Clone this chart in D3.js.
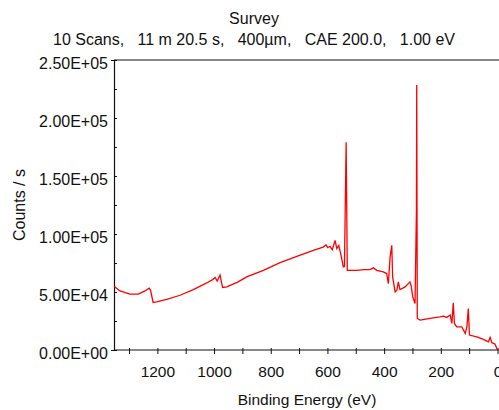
<!DOCTYPE html>
<html>
<head>
<meta charset="utf-8">
<script src="https://cdn.jsdelivr.net/npm/d3@7"></script>
<style>
  body { margin: 0; background: #fff; }
  svg text { font-family: "Liberation Sans", Arial, sans-serif; fill: #111; white-space: pre; }
</style>
</head>
<body>
<div class="container"></div>
<script>
// Spectrum (binding energy in eV, counts/s)
const energy = [1353, 1332, 1297, 1267, 1244, 1229, 1224, 1215, 1203, 1167, 1120, 1073, 1026, 1005, 996, 989, 979, 970, 955, 915,
  885, 826, 767, 708, 650, 615, 605, 599, 591, 583, 573, 567, 560, 552, 544, 540, 534, 530, 497, 470, 450, 438, 426, 403, 391,
  385, 379, 373, 370, 361, 355, 350, 344, 326, 309, 305, 299, 291, 286, 285, 283, 273, 238, 203, 191, 179, 167, 161, 156,
  152, 144, 126, 114, 108, 103, 99, 73, 50, 32, 26, 20, 9, 0];
const counts = [55000, 50900, 48100, 48100, 50900, 53300, 51500, 41000, 41500, 43600, 47200, 52100, 57800, 60700, 62500, 59500, 64700, 53900, 54400, 58700,
  63000, 68700, 75300, 80800, 85900, 88700, 90500, 88200, 89400, 86500, 94500, 87400, 90200, 81600, 71600, 72000, 179000, 68700, 68700, 69300, 69300, 70800, 68700, 67300, 65900,
  57300, 80100, 90200, 63000, 50100, 51500, 58700, 52100, 54400, 58700, 55800, 45800, 40100, 120000, 228500, 27200, 25800, 27200, 28600, 29200, 28100, 30100, 22900, 40600,
  22900, 20000, 20000, 14300, 20000, 35800, 12900, 11400, 9200, 7100, 10900, 6300, 5200, 0];

const yMajor = [0, 50000, 100000, 150000, 200000, 250000];
const yMinor = [25000, 75000, 125000, 175000, 225000];
const xMajor = [1200, 1000, 800, 600, 400, 200, 0];
const xMinor = [1300, 1100, 900, 700, 500, 300, 100];

const title = 'Survey';
const subtitle = '10 Scans,   11 m 20.5 s,   400\u00b5m,   CAE 200.0,   1.00 eV';

const width = 499, height = 410;
const padLeft = 114, padRight = 497.5, padTop = 60, padBottom = 350;

const svg = d3.select('.container').append('svg')
  .attr('width', width).attr('height', height);

const xScale = d3.scaleLinear().domain([1353, 0]).range([padLeft, padRight]);
const yScale = d3.scaleLinear().domain([0, 250000]).range([padBottom, padTop]);

const fmt = d => d.toExponential(2).toUpperCase().replace(/E([+-])(\d)$/, 'E$10$2');

// y axis
const yAxis = svg.append('g').attr('transform', `translate(${padLeft},0)`)
  .call(d3.axisLeft(yScale).tickValues(yMajor).tickSize(3).tickPadding(3).tickFormat(fmt));
yAxis.selectAll('.tick line').attr('x2', 3);
yAxis.selectAll('.tick text').attr('font-size', 16).attr('dy', '0.55em');
const yMin = svg.append('g').attr('transform', `translate(${padLeft},0)`)
  .call(d3.axisLeft(yScale).tickValues(yMinor).tickSize(3).tickFormat(''));
yMin.selectAll('.tick line').attr('x2', 3);
yMin.select('.domain').remove();

// x axis
const xAxis = svg.append('g').attr('transform', `translate(0,${padBottom})`)
  .call(d3.axisBottom(xScale).tickValues(xMajor).tickSize(4).tickPadding(12).tickFormat(d3.format('d')));
xAxis.selectAll('.tick line').attr('y1', -2);
xAxis.selectAll('.tick text').attr('font-size', 15.5);
xAxis.select('.domain').attr('d', `M${padLeft},0H${width}`);
const xMin = svg.append('g').attr('transform', `translate(0,${padBottom})`)
  .call(d3.axisBottom(xScale).tickValues(xMinor).tickSize(4).tickFormat(''));
xMin.selectAll('.tick line').attr('y1', -2);
xMin.select('.domain').remove();

svg.selectAll('.domain').attr('stroke', '#111').attr('stroke-width', 1.2);
svg.selectAll('.tick line').attr('stroke', '#111');

// top frame line
svg.append('line').attr('x1', padLeft).attr('x2', width).attr('y1', padTop).attr('y2', padTop)
  .attr('stroke', '#111').attr('stroke-width', 1.2);

// spectrum
const line = d3.line().x((d, i) => xScale(energy[i])).y(d => yScale(d));
svg.append('path').datum(counts)
  .attr('d', line).attr('fill', 'none').attr('stroke', '#f00').attr('stroke-width', 1.3);

// titles
svg.append('text').attr('x', 254).attr('y', 24).attr('text-anchor', 'middle').attr('font-size', 16).text(title);
svg.append('text').attr('x', 254).attr('y', 45).attr('text-anchor', 'middle').attr('font-size', 16).text(subtitle);
svg.append('text').attr('x', 307).attr('y', 405).attr('text-anchor', 'middle').attr('font-size', 15.5).text('Binding Energy (eV)');
svg.append('text').attr('transform', 'translate(25,205) rotate(-90)').attr('text-anchor', 'middle').attr('font-size', 16).text('Counts / s');
</script>
</body>
</html>
